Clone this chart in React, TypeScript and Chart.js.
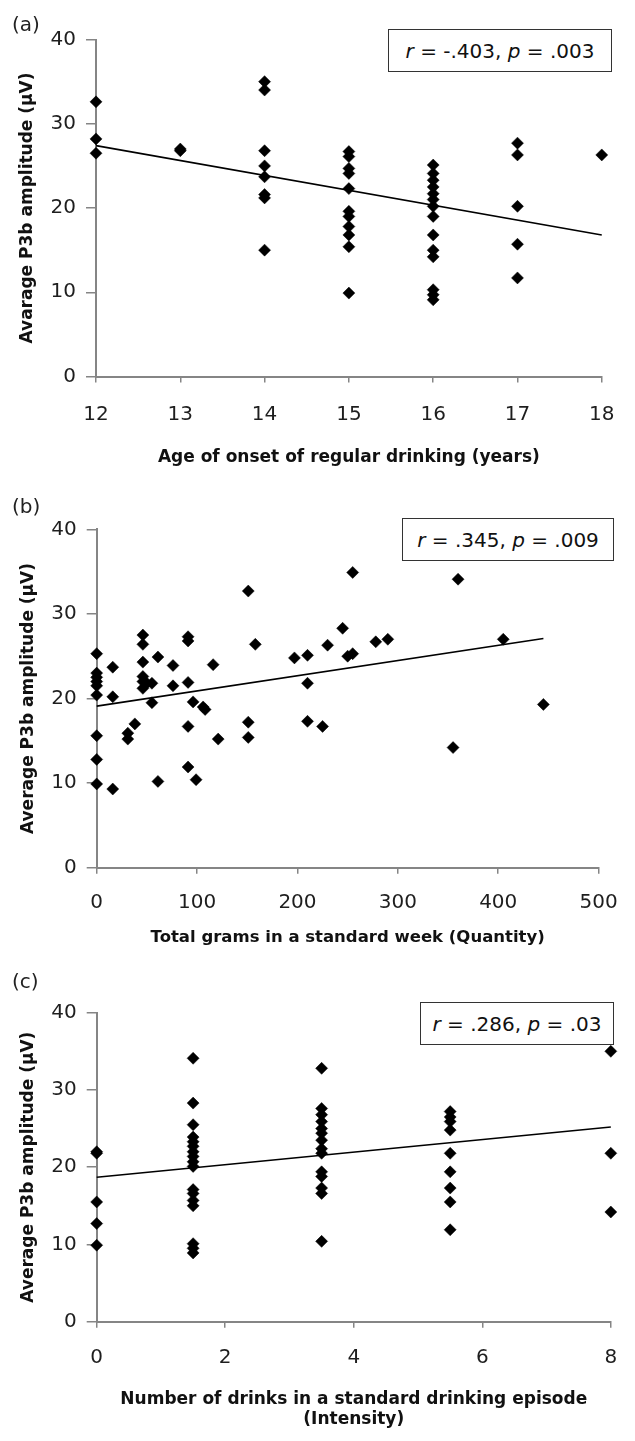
import React, { useEffect, useRef } from "react";
import { Chart, registerables } from "chart.js";

Chart.register(...registerables);

// ---------- Panel (a): age of onset ----------
const onsetAge = [
  12, 12, 12,
  13, 13,
  14, 14, 14, 14, 14, 14, 14, 14,
  15, 15, 15, 15, 15, 15, 15, 15, 15, 15, 15,
  16, 16, 16, 16, 16, 16, 16, 16, 16, 16, 16, 16, 16, 16,
  17, 17, 17, 17, 17,
  18,
];
const onsetAmp = [
  32.6, 28.2, 26.5,
  27.0, 26.8,
  35.0, 34.0, 26.8, 25.0, 23.7, 21.6, 21.2, 15.0,
  26.7, 26.1, 24.7, 24.1, 22.3, 19.6, 19.0, 17.8, 16.8, 15.4, 9.9,
  25.1, 24.1, 23.3, 22.5, 21.7, 21.0, 20.2, 19.0, 16.8, 15.0, 14.2, 10.3, 9.7, 9.1,
  27.7, 26.3, 20.2, 15.7, 11.7,
  26.3,
];
const onsetFitX = [12, 18];
const onsetFitY = [27.4, 16.8];
const onsetTicks = [12, 13, 14, 15, 16, 17, 18];

// ---------- Panel (b): grams per week ----------
const gramsWeek = [
  0, 0, 0, 0, 0, 0, 0, 0, 0,
  16, 16, 16,
  31, 31,
  38,
  46, 46, 46, 46, 46, 46,
  50,
  55, 55,
  61, 61,
  76, 76,
  91, 91, 91, 91, 91,
  96,
  99,
  106, 108,
  116,
  121,
  151, 151, 151,
  158,
  197,
  210, 210, 210,
  225,
  230,
  245,
  250, 255,
  255,
  278,
  290,
  355,
  360,
  405,
  445,
];
const gramsAmp = [
  25.3, 23.0, 22.5, 22.0, 21.5, 20.4, 15.6, 12.8, 9.9,
  23.7, 20.2, 9.3,
  15.9, 15.2,
  17.0,
  27.5, 26.4, 24.3, 22.6, 22.0, 21.2,
  21.8,
  21.8, 19.5,
  24.9, 10.2,
  23.9, 21.5,
  27.3, 26.8, 21.9, 16.7, 11.9,
  19.6,
  10.4,
  19.0, 18.7,
  24.0,
  15.2,
  32.7, 17.2, 15.4,
  26.4,
  24.8,
  25.1, 21.8, 17.3,
  16.7,
  26.3,
  28.3,
  25.0, 25.3,
  34.9,
  26.7,
  27.0,
  14.2,
  34.1,
  27.0,
  19.3,
];
const gramsFitX = [0, 445];
const gramsFitY = [19.1, 27.1];
const gramsTicks = [0, 100, 200, 300, 400, 500];

// ---------- Panel (c): drinks per episode ----------
const drinksEpisode = [
  0, 0, 0, 0, 0,
  1.5, 1.5, 1.5, 1.5, 1.5, 1.5, 1.5, 1.5, 1.5, 1.5, 1.5, 1.5, 1.5, 1.5, 1.5, 1.5, 1.5,
  3.5, 3.5, 3.5, 3.5, 3.5, 3.5, 3.5, 3.5, 3.5, 3.5, 3.5, 3.5, 3.5, 3.5,
  5.5, 5.5, 5.5, 5.5, 5.5, 5.5, 5.5, 5.5, 5.5,
  8, 8, 8,
];
const drinksAmp = [
  22.0, 21.8, 15.5, 12.7, 9.9,
  34.1, 28.3, 25.5, 23.9, 23.3, 22.7, 22.0, 21.4, 20.7, 20.1, 17.1, 16.6, 15.7, 15.0, 10.1, 9.5, 8.9,
  32.8, 27.6, 26.8, 25.9, 25.0, 24.4, 23.5, 22.4, 21.8, 19.4, 18.8, 17.3, 16.6, 10.4,
  27.2, 26.5, 25.9, 24.8, 21.8, 19.4, 17.3, 15.5, 11.9,
  35.0, 21.8, 14.2,
];
const drinksFitX = [0, 8];
const drinksFitY = [18.7, 25.2];
const drinksTicks = [0, 2, 4, 6, 8];

const ampTicks = [0, 10, 20, 30, 40];

const AXIS = "#858585";
const TICK = "#1e1e1e";
const TITLE = "#111111";
const FONT = "'DejaVu Sans', sans-serif";
const W = 635;

type Spec = {
  top: number;
  height: number;
  area: { left: number; right: number; top: number; bottom: number };
  xs: number[];
  ys: number[];
  fitX: number[];
  fitY: number[];
  xTicks: number[];
  xMin: number;
  xMax: number;
  xTitle: string | string[];
  xTitleSize: number;
  xTitleLH: number;
  xTitleCenterFromBottom: number;
  xLabelOffset: number;
  yTitle: string;
  yTitleCenterX: number;
};

function Panel({ spec }: { spec: Spec }) {
  const ref = useRef<HTMLCanvasElement>(null);
  useEffect(() => {
    const s = spec;
    const tickSize = 20;
    const tickLH = 1.2;
    const xTickLen = 6;
    const yTickLen = 10;
    const yTitleSize = 17;
    const yTitleLH = 1.2;
    const chart = new Chart(ref.current as HTMLCanvasElement, {
      type: "scatter",
      data: {
        datasets: [
          {
            data: s.xs.map((x, i) => ({ x, y: s.ys[i] })),
            pointStyle: "rectRot",
            pointRadius: 6,
            pointBackgroundColor: "#000",
            pointBorderColor: "#000",
            pointBorderWidth: 0.5,
            showLine: false,
            clip: false,
            order: 0,
          } as any,
          {
            data: s.fitX.map((x, i) => ({ x, y: s.fitY[i] })),
            showLine: true,
            borderColor: "#000",
            borderWidth: 1.6,
            pointRadius: 0,
            fill: false,
            clip: false,
            order: 1,
          } as any,
        ],
      },
      options: {
        animation: false,
        responsive: false,
        events: [],
        layout: {
          autoPadding: false,
          padding: {
            left: 0,
            top: s.area.top,
            right: W - s.area.right,
            bottom: 0,
          },
        },
        plugins: {
          legend: { display: false },
          tooltip: { enabled: false },
        },
        scales: {
          x: {
            type: "linear",
            position: "bottom",
            min: s.xMin,
            max: s.xMax,
            afterBuildTicks: (sc: any) => {
              sc.ticks = s.xTicks.map((v) => ({ value: v }));
            },
            afterFit: (sc: any) => {
              sc.height = s.height - s.area.bottom;
            },
            border: { display: true, color: AXIS, width: 2 },
            grid: {
              display: true,
              drawOnChartArea: false,
              drawTicks: true,
              tickLength: xTickLen,
              color: AXIS,
              lineWidth: 1.5,
            },
            ticks: {
              font: { family: FONT, size: tickSize, lineHeight: tickLH },
              color: TICK,
              padding: s.xLabelOffset - xTickLen - (tickSize * tickLH) / 2,
              maxRotation: 0,
              autoSkip: false,
            },
            title: {
              display: true,
              text: s.xTitle,
              color: TITLE,
              font: { family: FONT, size: s.xTitleSize, weight: "bold", lineHeight: s.xTitleLH },
              padding: {
                top: 0,
                bottom: s.xTitleCenterFromBottom - (s.xTitleSize * s.xTitleLH) / 2,
              },
            },
          },
          y: {
            type: "linear",
            position: "left",
            min: 0,
            max: 40,
            afterBuildTicks: (sc: any) => {
              sc.ticks = ampTicks.map((v) => ({ value: v }));
            },
            afterFit: (sc: any) => {
              sc.width = s.area.left;
            },
            border: { display: true, color: AXIS, width: 2 },
            grid: {
              display: true,
              drawOnChartArea: false,
              drawTicks: true,
              tickLength: yTickLen,
              color: AXIS,
              lineWidth: 1.5,
            },
            ticks: {
              font: { family: FONT, size: tickSize, lineHeight: tickLH },
              color: TICK,
              padding: 10,
              autoSkip: false,
            },
            title: {
              display: true,
              text: s.yTitle,
              color: TITLE,
              font: { family: FONT, size: yTitleSize, weight: "bold", lineHeight: yTitleLH },
              padding: {
                top: s.yTitleCenterX - (yTitleSize * yTitleLH) / 2,
                bottom: 0,
              },
            },
          },
        },
      } as any,
    });
    return () => chart.destroy();
  }, [spec]);
  return (
    <canvas
      ref={ref}
      width={W}
      height={spec.height}
      style={{ position: "absolute", left: 0, top: spec.top, width: W, height: spec.height, display: "block" }}
    />
  );
}

const specA: Spec = {
  top: 0,
  height: 480,
  area: { left: 96, right: 619, top: 39.5, bottom: 376.5 },
  xs: onsetAge,
  ys: onsetAmp,
  fitX: onsetFitX,
  fitY: onsetFitY,
  xTicks: onsetTicks,
  xMin: 12,
  xMax: 18,
  xTitle: "Age of onset of regular drinking (years)",
  xTitleSize: 17,
  xTitleLH: 1.2,
  xTitleCenterFromBottom: 480 - 458,
  xLabelOffset: 38.5,
  yTitle: "Avarage P3b amplitude (\u00b5V)",
  yTitleCenterX: 27.5,
};

const specB: Spec = {
  top: 470,
  height: 490,
  area: { left: 96.7, right: 615, top: 59.3, bottom: 397.7 },
  xs: gramsWeek,
  ys: gramsAmp,
  fitX: gramsFitX,
  fitY: gramsFitY,
  xTicks: gramsTicks,
  xMin: 0,
  xMax: 500,
  xTitle: "Total grams in a standard week (Quantity)",
  xTitleSize: 16.5,
  xTitleLH: 1.2,
  xTitleCenterFromBottom: 960 - 938,
  xLabelOffset: 35.3,
  yTitle: "Average P3b amplitude (\u00b5V)",
  yTitleCenterX: 28.5,
};

const specC: Spec = {
  top: 940,
  height: 501,
  area: { left: 96.7, right: 625, top: 72.7, bottom: 381.7 },
  xs: drinksEpisode,
  ys: drinksAmp,
  fitX: drinksFitX,
  fitY: drinksFitY,
  xTicks: drinksTicks,
  xMin: 0,
  xMax: 8,
  xTitle: ["Number of drinks in a standard drinking episode", "(Intensity)"],
  xTitleSize: 17,
  xTitleLH: 1.18,
  xTitleCenterFromBottom: 1441 - 1420,
  xLabelOffset: 35.8,
  yTitle: "Average P3b amplitude (\u00b5V)",
  yTitleCenterX: 28.5,
};

function StatBox({ left, top, width, height, r, p }: { left: number; top: number; width: number; height: number; r: string; p: string }) {
  return (
    <div
      style={{
        position: "absolute",
        left,
        top,
        width,
        height,
        boxSizing: "border-box",
        border: "1.6px solid #333",
        display: "flex",
        alignItems: "center",
        justifyContent: "center",
        fontFamily: FONT,
        fontSize: 20,
        color: "#111",
        whiteSpace: "nowrap",
        background: "#fff",
      }}
    >
      <span>
        <i>r</i> = {r}, <i>p</i> = {p}
      </span>
    </div>
  );
}

function PanelLabel({ text, top }: { text: string; top: number }) {
  return (
    <div
      style={{
        position: "absolute",
        left: 12,
        top,
        fontFamily: FONT,
        fontSize: 20,
        lineHeight: "24px",
        color: "#222",
      }}
    >
      {text}
    </div>
  );
}

export default function App() {
  return (
    <div style={{ position: "absolute", left: 0, top: 0, width: W, height: 1441, background: "#fff", overflow: "hidden" }}>
      <Panel spec={specA} />
      <Panel spec={specB} />
      <Panel spec={specC} />
      <PanelLabel text="(a)" top={12} />
      <PanelLabel text="(b)" top={494} />
      <PanelLabel text="(c)" top={969} />
      <StatBox left={388} top={29} width={224} height={43} r="-.403" p=".003" />
      <StatBox left={402} top={518} width={212} height={43} r=".345" p=".009" />
      <StatBox left={420} top={1002} width={194} height={43} r=".286" p=".03" />
    </div>
  );
}
